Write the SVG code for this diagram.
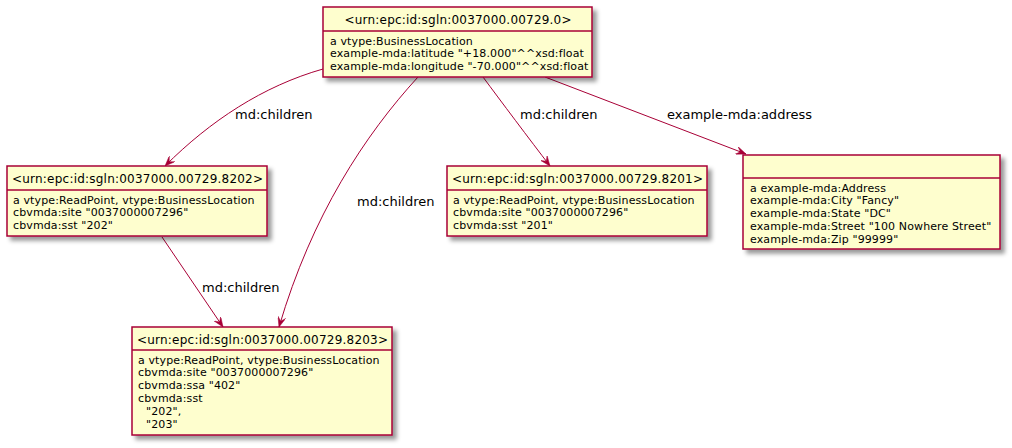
<svg xmlns="http://www.w3.org/2000/svg" width="1012" height="448" viewBox="0 0 1012 448">
<style>
.box{fill:#FEFECE;stroke:#A80036;stroke-width:1.5}
.sep{stroke:#A80036;stroke-width:1.5}
.t{font-family:"DejaVu Sans","Liberation Sans",sans-serif;font-size:12px;fill:#000}
.a{font-family:"DejaVu Sans","Liberation Sans",sans-serif;font-size:11px;letter-spacing:0.12px;fill:#000}
.l{font-family:"DejaVu Sans","Liberation Sans",sans-serif;font-size:13px;fill:#000}
.e{fill:none;stroke:#A80036;stroke-width:1}
</style>
<defs>
<filter id="sh" x="-10%" y="-10%" width="130%" height="140%">
<feGaussianBlur in="SourceAlpha" stdDeviation="2" result="b"/>
<feColorMatrix in="b" type="matrix" values="0 0 0 0 0 0 0 0 0 0 0 0 0 0 0 0 0 0 .4 0" result="b2"/>
<feOffset in="b2" dx="4" dy="4" result="b3"/>
<feMerge><feMergeNode in="b3"/><feMergeNode in="SourceGraphic"/></feMerge>
</filter>
<marker id="ah" viewBox="0 0 10 8" refX="10" refY="4" markerWidth="10" markerHeight="8" markerUnits="userSpaceOnUse" orient="auto">
<path d="M10,4 L0,0 L4,4 L0,8 Z" fill="#A80036" stroke="#A80036" stroke-width="0.5"/>
</marker>
</defs>

<g id="connectors">
<path class="e" d="M323,69 C263,86 210,121 165,166" marker-end="url(#ah)"/>
<path class="e" d="M418,77 C365,135 312,215 279,327" marker-end="url(#ah)"/>
<path class="e" d="M483,77 C500,100 530,140 550,166" marker-end="url(#ah)"/>
<path class="e" d="M545,77 L746,154" marker-end="url(#ah)"/>
<path class="e" d="M162,237 L223,327" marker-end="url(#ah)"/>
<text class="l" x="235" y="119">md:children</text>
<text class="l" x="357" y="206">md:children</text>
<text class="l" x="520" y="119">md:children</text>
<text class="l" x="667" y="119">example-mda:address</text>
<text class="l" x="202" y="292">md:children</text>
</g>

<g id="node0">
<rect class="box" x="323" y="7" width="269" height="70" filter="url(#sh)"/>
<line class="sep" x1="323" y1="31" x2="592" y2="31"/>
<text class="t" x="458" y="23.5" text-anchor="middle" textLength="227" lengthAdjust="spacing">&lt;urn:epc:id:sgln:0037000.00729.0&gt;</text>
<text class="a" x="330" y="44.5">a vtype:BusinessLocation</text>
<text class="a" x="330" y="57.4">example-mda:latitude "+18.000"^^xsd:float</text>
<text class="a" x="330" y="70.3">example-mda:longitude "-70.000"^^xsd:float</text>
</g>

<g id="node8202">
<rect class="box" x="7" y="166" width="260" height="70" filter="url(#sh)"/>
<line class="sep" x1="7" y1="190" x2="267" y2="190"/>
<text class="t" x="137.5" y="182.5" text-anchor="middle" textLength="251" lengthAdjust="spacing">&lt;urn:epc:id:sgln:0037000.00729.8202&gt;</text>
<text class="a" x="13" y="203.5">a vtype:ReadPoint, vtype:BusinessLocation</text>
<text class="a" x="13" y="216.4">cbvmda:site "0037000007296"</text>
<text class="a" x="13" y="229.3">cbvmda:sst "202"</text>
</g>

<g id="node8201">
<rect class="box" x="447" y="166" width="260" height="70" filter="url(#sh)"/>
<line class="sep" x1="447" y1="190" x2="707" y2="190"/>
<text class="t" x="577.5" y="182.5" text-anchor="middle" textLength="251" lengthAdjust="spacing">&lt;urn:epc:id:sgln:0037000.00729.8201&gt;</text>
<text class="a" x="453" y="203.5">a vtype:ReadPoint, vtype:BusinessLocation</text>
<text class="a" x="453" y="216.4">cbvmda:site "0037000007296"</text>
<text class="a" x="453" y="229.3">cbvmda:sst "201"</text>
</g>

<g id="nodeAddress">
<rect class="box" x="743" y="155" width="257" height="94" filter="url(#sh)"/>
<line class="sep" x1="743" y1="178" x2="1000" y2="178"/>
<text class="a" x="750" y="191.5">a example-mda:Address</text>
<text class="a" x="750" y="204.4">example-mda:City "Fancy"</text>
<text class="a" x="750" y="217.3">example-mda:State "DC"</text>
<text class="a" x="750" y="230.2">example-mda:Street "100 Nowhere Street"</text>
<text class="a" x="750" y="243.1">example-mda:Zip "99999"</text>
</g>

<g id="node8203">
<rect class="box" x="132" y="327" width="260" height="108" filter="url(#sh)"/>
<line class="sep" x1="132" y1="350" x2="392" y2="350"/>
<text class="t" x="262.5" y="343.5" text-anchor="middle" textLength="251" lengthAdjust="spacing">&lt;urn:epc:id:sgln:0037000.00729.8203&gt;</text>
<text class="a" x="138" y="363.5">a vtype:ReadPoint, vtype:BusinessLocation</text>
<text class="a" x="138" y="376.4">cbvmda:site "0037000007296"</text>
<text class="a" x="138" y="389.3">cbvmda:ssa "402"</text>
<text class="a" x="138" y="402.2">cbvmda:sst</text>
<text class="a" x="146" y="415.1">"202",</text>
<text class="a" x="146" y="428">"203"</text>
</g>
</svg>
